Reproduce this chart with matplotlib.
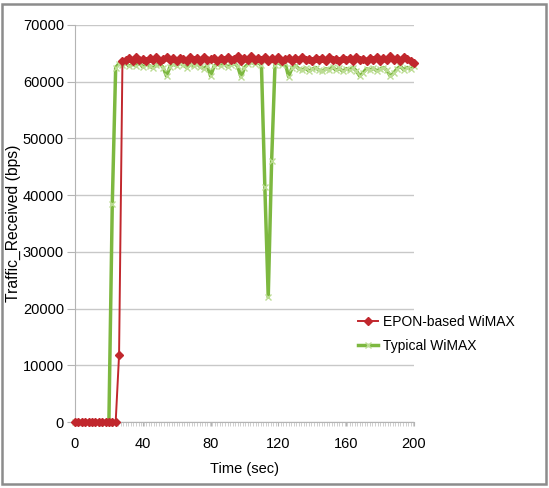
import matplotlib
matplotlib.use("Agg")
import matplotlib.pyplot as plt
import matplotlib.ticker as ticker
from matplotlib.patches import Rectangle
import numpy as np

plt.rcParams['font.family'] = ['Liberation Sans', 'DejaVu Sans']

# time axis (sec), one sample every 2 s
time = np.arange(0, 202, 2)

epon_wimax = [0] * 13 + [11800] + [
    63600, 63900, 64100, 63700, 64300, 63800, 64000, 63600, 64200, 63900,
    64400, 63700, 64000, 64300, 63800, 64100, 63600, 64200, 64000, 63700,
    64300, 63900, 64100, 63700, 64400, 63800, 64000, 64200, 63600, 64100,
    63900, 64300, 63800, 64000, 64500, 63700, 64100, 63900, 64600, 63800,
    64200, 63900, 64400, 63700, 64100, 63800, 64300, 63600, 64000, 64200,
    63700, 64100, 63800, 64300, 63900, 64000, 63600, 64200, 63800, 64100,
    63700, 64300, 63900, 64000, 63600, 64200, 63800, 64100, 63700, 64400,
    63900, 64000, 63600, 64200, 63800, 64300, 63700, 64100, 63900, 64500,
    63800, 64200, 63600, 64400, 64000, 63700, 63300,
]

typical_wimax = [0] * 11 + [38500, 62500] + [
    63200, 62900, 63300, 62700, 63100, 62800, 63300, 62600, 63000, 62800,
    62400, 62900, 63200, 62500, 61000, 62600, 63100, 62800, 63300, 62900,
    62500, 63000, 62700, 63200, 62600, 62300, 62800, 61000, 62700, 63100,
    62800, 63200, 62600, 62900, 63300, 62700, 60800, 62500, 63100, 63400,
    63200, 63400, 62900, 41500, 22000, 46000, 63000, 63400, 62900, 63300,
    60900, 62400, 62800, 62300, 62000, 62400, 61900, 62200, 62500, 62000,
    61800, 62300, 62100, 62600, 62000, 62400, 61800, 62300, 62100, 62500,
    61900, 61000, 61600, 62300, 62000, 62400, 61900, 62200, 62500, 62000,
    61000, 61500, 62300, 62700, 62100, 62500, 62200, 62700,
]

red = '#C1272D'
green = '#7DB840'
light_green = '#BCDD94'

fig = plt.figure(figsize=(5.49, 4.88), dpi=100)
ax = fig.add_axes([0.1366, 0.1352, 0.6175, 0.8136])

ax.plot(time, typical_wimax, color=green, lw=2.5, marker='x', ms=5,
        mec=light_green, mew=1, label='Typical WiMAX', clip_on=False, zorder=3)
ax.plot(time, epon_wimax, color=red, lw=1.4, marker='D', ms=4.5,
        mec=red, mfc=red, label='EPON-based WiMAX', clip_on=False, zorder=4)

ax.set_xlim(0, 200)
ax.set_ylim(0, 70000)
ax.set_xticks(range(0, 201, 40))
ax.set_yticks(range(0, 70001, 10000))
ax.xaxis.set_minor_locator(ticker.MultipleLocator(1.5))

ax.grid(axis='y', color='#c8c8c8', lw=1)
ax.set_axisbelow(True)
for side in ['top', 'right']:
    ax.spines[side].set_visible(False)
ax.spines['left'].set_color('#b4b4b4')
ax.spines['bottom'].set_color('#b4b4b4')
ax.tick_params(axis='y', length=6, color='#b4b4b4', labelsize=10.5, pad=2)
ax.tick_params(axis='x', which='major', length=3, color='#b4b4b4', labelsize=10.5, pad=8)
ax.tick_params(axis='x', which='minor', length=3, width=0.6, color='#c8c8c8')

ax.set_xlabel('Time (sec)', fontsize=10.5, labelpad=8)
ax.set_ylabel('Traffic_Received (bps)', fontsize=11.3)
ax.yaxis.set_label_coords(-0.158, 0.5)

handles, labels = ax.get_legend_handles_labels()
fig.legend(handles[::-1], labels[::-1], loc='center left',
           bbox_to_anchor=(0.63, 0.316), frameon=False, fontsize=10,
           handlelength=1.4, handletextpad=0.4, labelspacing=0.7)

fig.patches.append(Rectangle((0.004, 0.008), 0.991, 0.984, transform=fig.transFigure,
                             fill=False, edgecolor='#8c8c8c', lw=1.8))

fig.savefig('out.png', dpi=100)
